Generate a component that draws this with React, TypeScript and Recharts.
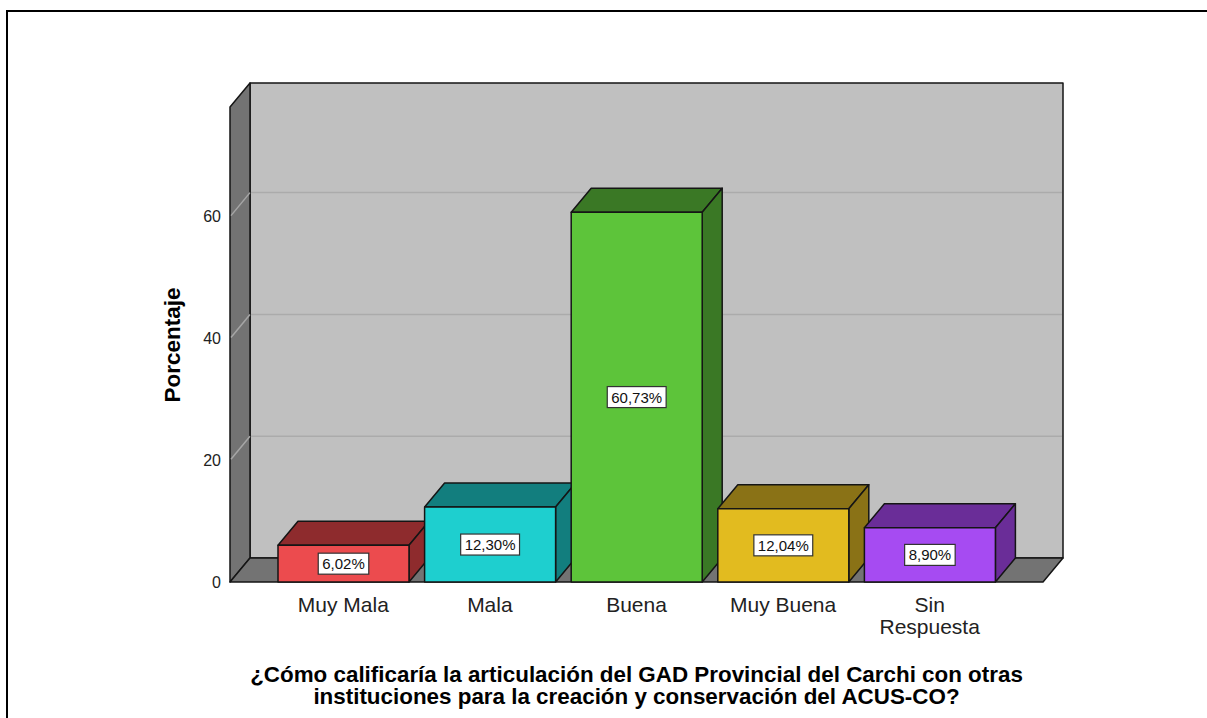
import { BarChart, Bar, XAxis, YAxis, LabelList, usePlotArea } from 'recharts';

const categories = ['Muy Mala', 'Mala', 'Buena', 'Muy Buena', 'Sin Respuesta'];
const percentages = [6.02, 12.3, 60.73, 12.04, 8.9];
const frontColors = ['#EC4B4E', '#1ECFCF', '#5DC43A', '#E2BB1F', '#A64BF2'];
const shadeColors = ['#8E2B2D', '#127E7E', '#3A7825', '#8A7216', '#6A2D98'];
const yTicks = [0, 20, 40, 60];
const gridValues = [20, 40, 60];

const Y_MAX = 78;
const DX = 20;
const DY = 24;
const FONT = "'Liberation Sans', Arial, sans-serif";

const data = categories.map((name, i) => ({
  name,
  value: percentages[i],
  front: frontColors[i],
  shade: shadeColors[i],
}));

const fmt = (v: number) => v.toFixed(2).replace('.', ',') + '%';

// rough Arial advance widths, enough to size the label boxes
function textWidth(s: string, size: number) {
  let w = 0;
  for (const ch of s) {
    if (ch === ',' || ch === '.') w += 0.278;
    else if (ch === '%') w += 0.889;
    else w += 0.556;
  }
  return w * size;
}

function Walls() {
  const plot = usePlotArea();
  if (!plot) return null;
  const { x, y, width, height } = plot;
  const bottom = y + height;
  const right = x + width;
  const yOf = (v: number) => bottom - (v / Y_MAX) * height;
  const edge = { stroke: '#151515', strokeWidth: 1.5, strokeLinejoin: 'round' as const };

  return (
    <g>
      <polygon
        points={`${x + DX},${y - DY} ${right + DX},${y - DY} ${right + DX},${bottom - DY} ${x + DX},${bottom - DY}`}
        fill="#C0C0C0"
        {...edge}
      />
      <polygon
        points={`${x},${y} ${x + DX},${y - DY} ${x + DX},${bottom - DY} ${x},${bottom}`}
        fill="#737373"
        {...edge}
      />
      <polygon
        points={`${x},${bottom} ${x + DX},${bottom - DY} ${right + DX},${bottom - DY} ${right},${bottom}`}
        fill="#737373"
        {...edge}
      />
      {gridValues.map((v) => (
        <g key={v}>
          <line x1={x + DX + 1} x2={right + DX - 1} y1={yOf(v) - DY} y2={yOf(v) - DY} stroke="#ABABAB" strokeWidth={1.5} />
          <line x1={x + 1} x2={x + DX} y1={yOf(v) - 1} y2={yOf(v) - DY} stroke="#A6A6A6" strokeWidth={1.5} />
        </g>
      ))}
    </g>
  );
}

function Box3D(props: any) {
  const { x, y, width, height, payload } = props;
  if (height == null || width == null) return null;
  const b = y + height;
  const r = x + width;
  const st = { stroke: '#151515', strokeWidth: 1.5, strokeLinejoin: 'round' as const };
  return (
    <g>
      <polygon points={`${x},${y} ${x + DX},${y - DY} ${r + DX},${y - DY} ${r},${y}`} fill={payload.shade} {...st} />
      <polygon points={`${r},${y} ${r + DX},${y - DY} ${r + DX},${b - DY} ${r},${b}`} fill={payload.shade} {...st} />
      <rect x={x} y={y} width={width} height={height} fill={payload.front} {...st} />
    </g>
  );
}

function ValueBox(props: any) {
  const vb = props.viewBox || {};
  const x = props.x ?? vb.x;
  const y = props.y ?? vb.y;
  const width = props.width ?? vb.width;
  const height = props.height ?? vb.height;
  const text = fmt(Number(props.value));
  const w = textWidth(text, 15) + 8;
  const h = 21;
  const cx = x + width / 2;
  const cy = y + height / 2;
  return (
    <g>
      <rect x={cx - w / 2} y={cy - h / 2} width={w} height={h} fill="#fff" stroke="#333" strokeWidth={1.2} />
      <text x={cx} y={cy + 5.5} textAnchor="middle" fontSize={15} fontFamily={FONT} fill="#111">
        {text}
      </text>
    </g>
  );
}

function CategoryTick(props: any) {
  const { x, y, payload } = props;
  const label: string = payload.value;
  const lines = label.length > 10 ? label.split(' ') : [label];
  return (
    <text x={x} y={y + 22} textAnchor="middle" fontSize={21} fontFamily={FONT} fill="#222">
      {lines.map((ln, i) => (
        <tspan key={i} x={x} dy={i === 0 ? 0 : 22}>
          {ln}
        </tspan>
      ))}
    </text>
  );
}

export default function App() {
  return (
    <div style={{ position: 'absolute', left: 0, top: 0, width: 1207, height: 718, overflow: 'hidden', background: '#fff' }}>
      <div
        style={{
          position: 'absolute',
          left: 6,
          top: 10,
          width: 1240,
          height: 740,
          borderTop: '2px solid #000',
          borderLeft: '2px solid #000',
          boxSizing: 'border-box',
        }}
      />
      <div style={{ position: 'absolute', left: 0, top: 0 }}>
        <BarChart
          width={1207}
          height={718}
          data={data}
          margin={{ top: 107, right: 164, bottom: 76, left: 170 }}
          barCategoryGap={8}
        >
          <Walls />
          <XAxis
            dataKey="name"
            height={60}
            padding={{ left: 40, right: 40 }}
            axisLine={false}
            tickLine={false}
            tick={<CategoryTick />}
            interval={0}
          />
          <YAxis
            width={60}
            domain={[0, Y_MAX]}
            ticks={yTicks}
            axisLine={false}
            tickLine={false}
            tickSize={6}
            tickMargin={3}
            tick={{ fontSize: 16, fill: '#222', fontFamily: FONT }}
          />
          <Bar dataKey="value" shape={<Box3D />} isAnimationActive={false}>
            <LabelList dataKey="value" content={<ValueBox />} />
          </Bar>
        </BarChart>
      </div>
      <svg width={1207} height={718} style={{ position: 'absolute', left: 0, top: 0, pointerEvents: 'none' }}>
        <text
          x={180}
          y={345}
          transform="rotate(-90 180 345)"
          textAnchor="middle"
          fontSize={22.5}
          fontWeight="bold"
          fontFamily={FONT}
          fill="#000"
        >
          Porcentaje
        </text>
        <text x={636.5} y={682} textAnchor="middle" fontSize={22.4} fontWeight="bold" fontFamily={FONT} fill="#000">
          ¿Cómo calificaría la articulación del GAD Provincial del Carchi con otras
        </text>
        <text x={636.5} y={703.5} textAnchor="middle" fontSize={22.4} fontWeight="bold" fontFamily={FONT} fill="#000">
          instituciones para la creación y conservación del ACUS-CO?
        </text>
      </svg>
    </div>
  );
}
